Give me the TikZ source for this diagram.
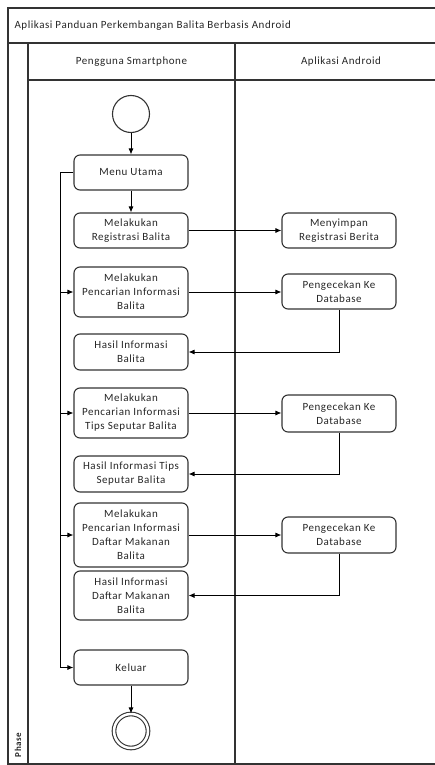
\documentclass[tikz,border=0pt]{standalone}
\usepackage{fontspec}
\setmainfont{Carlito}[LetterSpace=5]
\usetikzlibrary{arrows.meta}

\begin{document}
\begin{tikzpicture}[x=1pt,y=-1pt,
  every node/.style={font=\fontsize{11}{14}\selectfont,text=black!85},
  act/.style={draw=black!80,line width=1.1pt,rounded corners=6pt,
    minimum width=114pt,minimum height=35pt,align=center,inner sep=1pt},
  flow/.style={-{Latex[length=6pt,width=5pt]},line width=0.9pt},
  lane/.style={draw=black!80,line width=1.4pt}]
\useasboundingbox (0,0) rectangle (434,765);
\newcommand{\poolright}{447}
\newcommand{\poolbottom}{764}

% pool and lanes
\draw [lane] (8,8) rectangle (\poolright,\poolbottom);
\draw [lane] (8,43)--(\poolright,43);
\draw [lane] (28,80)--(\poolright,80);
\draw [lane] (28,43)--(28,\poolbottom);
\draw [lane] (235,43)--(235,\poolbottom);
\node [anchor=west] (pool) at (11,25.5) {Aplikasi Panduan Perkembangan Balita Berbasis Android};
\node (laneuser) at (131.5,61.5) {Pengguna Smartphone};
\node (laneapp) at (341,61.5) {Aplikasi Android};
\node [rotate=90,font=\fontsize{9}{10}\bfseries\selectfont] (phase) at (18,745) {Phase};

% activities
\node [circle,draw=black!80,line width=1.1pt,minimum size=37pt,inner sep=0pt] (start) at (131,114) {};
\node [act] (menu) at (131,172.5) {Menu Utama};
\node [act] (reg) at (131,230.5) {Melakukan\\Registrasi Balita};
\node [act] (simpan) at (339,230.5) {Menyimpan\\Registrasi Berita};
\node [act,minimum height=50pt] (cari1) at (131,292) {Melakukan\\Pencarian Informasi\\Balita};
\node [act] (cek1) at (339,291.5) {Pengecekan Ke\\Database};
\node [act,minimum height=36pt] (hasil1) at (131,352) {Hasil Informasi\\Balita};
\node [act,minimum height=50pt] (cari2) at (131,413) {Melakukan\\Pencarian Informasi\\Tips Seputar Balita};
\node [act,minimum height=37pt] (cek2) at (339,413.5) {Pengecekan Ke\\Database};
\node [act,minimum height=36pt] (hasil2) at (131,474) {Hasil Informasi Tips\\Seputar Balita};
\node [act,minimum height=64pt] (cari3) at (131,535) {Melakukan\\Pencarian Informasi\\Daftar Makanan\\Balita};
\node [act,minimum height=36pt] (cek3) at (339,535) {Pengecekan Ke\\Database};
\node [act,minimum height=49pt] (hasil3) at (131,595.5) {Hasil Informasi\\Daftar Makanan\\Balita};
\node [act] (keluar) at (131,667.5) {Keluar};
\node [circle,draw=black!80,line width=1.1pt,double,double distance=2.5pt,minimum size=34pt,inner sep=0pt] (stop) at (131,731) {};

% flows
\coordinate (loop) at (60,172.5);
\draw [flow] (start)--(menu);
\draw [flow] (menu)--(reg);
\draw [flow] (reg)--(simpan);
\draw [flow] (menu.west)--(loop)--(loop |- keluar.west)--(keluar.west);
\draw [flow] (loop |- cari1.west)--(cari1.west);
\draw [flow] (loop |- cari2.west)--(cari2.west);
\draw [flow] (loop |- cari3.west)--(cari3.west);
\draw [flow] (cari1.east)--(cek1.west |- cari1.east);
\draw [flow] (cari2.east)--(cek2.west |- cari2.east);
\draw [flow] (cari3.east)--(cek3.west |- cari3.east);
\draw [flow] (cek1.south) |- (hasil1.east);
\draw [flow] (cek2.south) |- (hasil2.east);
\draw [flow] (cek3.south) |- (hasil3.east);
\draw [flow] (keluar)--(stop);
\end{tikzpicture}
\end{document}
